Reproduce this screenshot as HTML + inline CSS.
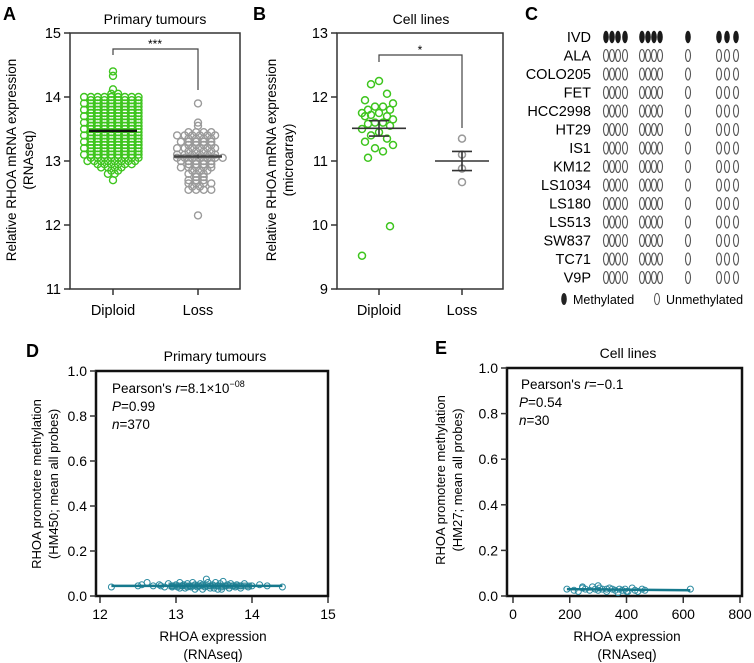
<!DOCTYPE html>
<html><head><meta charset="utf-8">
<style>
html,body{margin:0;padding:0;background:#fff;}
svg{display:block;font-family:"Liberation Sans",Arial,sans-serif;}
</style></head>
<body>
<svg id="fig" width="754" height="663" viewBox="0 0 754 663">
<g>
<text x="3" y="20" font-size="18" font-weight="bold">A</text>
<text x="155" y="24" font-size="14" text-anchor="middle">Primary tumours</text>
<rect x="70" y="33" width="170" height="256" fill="none" stroke="#333" stroke-width="1.5"/>
<text transform="translate(16,160) rotate(-90)" font-size="13.5" text-anchor="middle">Relative RHOA mRNA expression</text>
<text transform="translate(33,160) rotate(-90)" font-size="13.5" text-anchor="middle">(RNAseq)</text>
<g id="aAxis"></g>
<g id="aMarks"></g>
</g>
<g>
<text x="253" y="20" font-size="18" font-weight="bold">B</text>
<text x="421" y="24" font-size="14" text-anchor="middle">Cell lines</text>
<rect x="337" y="33" width="166" height="256" fill="none" stroke="#333" stroke-width="1.5"/>
<text transform="translate(276,160) rotate(-90)" font-size="13.5" text-anchor="middle">Relative RHOA mRNA expression</text>
<text transform="translate(293,160) rotate(-90)" font-size="13.5" text-anchor="middle">(microarray)</text>
<g id="bAxis"></g>
<g id="bMarks"></g>
</g>
<g>
<text x="525" y="20" font-size="18" font-weight="bold">C</text>
<g id="cGrid"></g>
<ellipse cx="564" cy="299" rx="2.8" ry="6" fill="#222"/>
<text x="573" y="304" font-size="12.5">Methylated</text>
<ellipse cx="657" cy="299" rx="2.5" ry="5.6" fill="none" stroke="#555" stroke-width="1"/>
<text x="666" y="304" font-size="12.5">Unmethylated</text>
</g>
<g>
<text x="26" y="357" font-size="18" font-weight="bold">D</text>
<text x="215" y="361" font-size="14" text-anchor="middle">Primary tumours</text>
<rect x="96" y="371" width="232" height="225" fill="none" stroke="#111" stroke-width="2.5"/>
<text x="112" y="393" font-size="13.5">Pearson's <tspan font-style="italic">r</tspan>=8.1×10<tspan font-size="9" dy="-6">−08</tspan></text>
<text x="112" y="411" font-size="13.5"><tspan font-style="italic">P</tspan>=0.99</text>
<text x="112" y="429" font-size="13.5"><tspan font-style="italic">n</tspan>=370</text>
<text transform="translate(41,484) rotate(-90)" font-size="13" text-anchor="middle">RHOA promotere methylation</text>
<text transform="translate(58,484) rotate(-90)" font-size="13" text-anchor="middle">(HM450; mean all probes)</text>
<text x="213" y="641" font-size="13.5" text-anchor="middle">RHOA expression</text>
<text x="213" y="659" font-size="13.5" text-anchor="middle">(RNAseq)</text>
<g id="dAxis"></g>
<g id="dMarks"></g>
</g>
<g>
<text x="435" y="354" font-size="18" font-weight="bold">E</text>
<text x="628" y="358" font-size="14" text-anchor="middle">Cell lines</text>
<rect x="507" y="368" width="235" height="228" fill="none" stroke="#111" stroke-width="2.5"/>
<text x="521" y="389" font-size="13.5">Pearson's <tspan font-style="italic">r</tspan>=−0.1</text>
<text x="519" y="407" font-size="13.5"><tspan font-style="italic">P</tspan>=0.54</text>
<text x="519" y="425" font-size="13.5"><tspan font-style="italic">n</tspan>=30</text>
<text transform="translate(445,480) rotate(-90)" font-size="13" text-anchor="middle">RHOA promotere methylation</text>
<text transform="translate(462,480) rotate(-90)" font-size="13" text-anchor="middle">(HM27; mean all probes)</text>
<text x="627" y="641" font-size="13.5" text-anchor="middle">RHOA expression</text>
<text x="627" y="659" font-size="13.5" text-anchor="middle">(RNAseq)</text>
<g id="eAxis"></g>
<g id="eMarks"></g>
</g>
</svg>
<script>
const aTicks = [11, 12, 13, 14, 15];
const aCategories = ["Diploid", "Loss"];
const aDiploidRows = [[14.4,1],[14.33,1],[14.12,1],[14.05,2],[14.0,9],[13.95,8],[13.9,9],[13.85,8],[13.8,9],[13.75,8],[13.7,9],[13.65,8],[13.6,9],[13.55,8],[13.5,9],[13.45,8],[13.4,9],[13.35,8],[13.3,9],[13.25,8],[13.2,9],[13.15,8],[13.1,9],[13.05,8],[13.0,8],[12.95,6],[12.9,4],[12.85,2],[12.8,2],[12.7,1]];
const aLossRows = [[13.9,1],[13.6,1],[13.55,1],[13.45,4],[13.4,6],[13.35,4],[13.3,5],[13.25,4],[13.2,6],[13.15,4],[13.1,6],[13.05,7],[13.0,5],[12.95,4],[12.9,5],[12.85,3],[12.8,3],[12.75,2],[12.7,3],[12.65,4],[12.6,2],[12.55,4],[12.15,1]];
const aMeans = [13.47, 13.07];
const aSem = [0.02, 0.03];

const bTicks = [9, 10, 11, 12, 13];
const bCategories = ["Diploid", "Loss"];
const bDiploid = [12.25,12.2,12.05,11.95,11.9,11.85,11.85,11.8,11.8,11.75,11.75,11.72,11.7,11.7,11.65,11.6,11.6,11.58,11.55,11.5,11.45,11.4,11.35,11.3,11.25,11.2,11.15,11.05,9.98,9.52];
const bLoss = [11.35, 11.1, 10.88, 10.67];
const bMeans = [11.51, 11.0];
const bSem = [0.12, 0.15];

const cLines = ["IVD","ALA","COLO205","FET","HCC2998","HT29","IS1","KM12","LS1034","LS180","LS513","SW837","TC71","V9P"];
const cMethylated = ["IVD"];

const dTicksX = [12, 13, 14, 15];
const dTicksY = [0.0, 0.2, 0.4, 0.6, 0.8, 1.0];
const dX = [12.15,12.5,12.55,12.62,12.7,12.78,12.85,12.9,12.95,13.0,13.02,13.05,13.08,13.1,13.12,13.15,13.18,13.2,13.22,13.25,13.28,13.3,13.32,13.35,13.38,13.4,13.42,13.45,13.48,13.5,13.52,13.55,13.58,13.6,13.62,13.65,13.68,13.7,13.72,13.75,13.78,13.8,13.85,13.9,13.95,14.0,14.1,14.2,14.4,13.25,13.45,13.6,13.05,12.95,13.35,13.7,13.15,13.55,13.85,12.8];
const dY = [0.04,0.045,0.05,0.06,0.045,0.05,0.04,0.055,0.045,0.05,0.04,0.06,0.045,0.05,0.035,0.055,0.045,0.04,0.06,0.05,0.04,0.045,0.055,0.05,0.04,0.075,0.06,0.045,0.05,0.035,0.06,0.045,0.055,0.04,0.065,0.045,0.05,0.035,0.055,0.045,0.04,0.05,0.045,0.055,0.04,0.045,0.05,0.045,0.04,0.03,0.035,0.03,0.035,0.04,0.03,0.035,0.04,0.03,0.035,0.045];
const dFit = [0.045, 0.045];

const eTicksX = [0, 200, 400, 600, 800];
const eTicksY = [0.0, 0.2, 0.4, 0.6, 0.8, 1.0];
const eX = [190,215,230,245,255,270,280,290,300,305,315,330,340,350,360,370,375,385,395,405,420,430,440,455,465,245,300,330,400,625];
const eY = [0.03,0.025,0.02,0.035,0.03,0.025,0.04,0.03,0.025,0.035,0.03,0.02,0.035,0.03,0.025,0.015,0.03,0.025,0.03,0.02,0.035,0.025,0.02,0.03,0.025,0.04,0.045,0.03,0.02,0.03];
const eFit = [0.03, 0.025];

const NS = "http://www.w3.org/2000/svg";
function mk(parent, tag, attrs, text){
  const el = document.createElementNS(NS, tag);
  for (const k in attrs) el.setAttribute(k, attrs[k]);
  if (text !== undefined) el.textContent = text;
  parent.appendChild(el);
  return el;
}
function lin(d0,d1,r0,r1){ return v => r0 + (v-d0)*(r1-r0)/(d1-d0); }

function yAxis(g, ticks, y, x0, fmt, fs){
  ticks.forEach(t=>{
    const l = mk(g,"line",{x1:x0-6,x2:x0,y1:y(t),y2:y(t),stroke:"#333","stroke-width":1.5});
    
    
    const tx = mk(g,"text",{x:x0-9,y:y(t)+5,"font-size":fs,"text-anchor":"end"}, fmt(t));
    
    
  });
}
function xAxis(g, ticks, x, y0, fmt, fs){
  ticks.forEach(t=>{
    const l = mk(g,"line",{x1:x(t),x2:x(t),y1:y0,y2:y0+6,stroke:"#333","stroke-width":1.5});
    
    
    const tx = mk(g,"text",{x:x(t),y:y0+22,"font-size":fs,"text-anchor":"middle"}, fmt(t));
    
    
  });
}

(function(){
  const y = lin(11,15,289,33);
  const cx = [113,198];
  const ax = document.getElementById("aAxis"), mg = document.getElementById("aMarks");
  yAxis(ax, aTicks, y, 70, t=>String(t), 14.5);
  aCategories.forEach((c,i)=>{
    const l = mk(ax,"line",{x1:cx[i],x2:cx[i],y1:289,y2:295,stroke:"#333","stroke-width":1.5});
    
    
    const t = mk(ax,"text",{x:cx[i],y:315,"font-size":14.5,"text-anchor":"middle"},c);
    
    
  });
  function rows(data, x0, col, sp){
    data.forEach(([v,n],ri)=>{
      const off = (ri%2)*sp/2;
      for(let k=0;k<n;k++){
        const px = x0 + (k-(n-1)/2)*sp + (n>1?off-sp/4:0);
        const c = mk(mg,"circle",{cx:px,cy:y(v),r:3.5,fill:"none",stroke:col,"stroke-width":1.4});
        
        
      }
    });
  }
  rows(aDiploidRows, cx[0], "#3ec51e", 6.8);
  rows(aLossRows, cx[1], "#9a9a9a", 7.6);
  const colsM = ["#111","#444"];
  aMeans.forEach((m,i)=>{
    const l = mk(mg,"line",{x1:cx[i]-24,x2:cx[i]+24,y1:y(m),y2:y(m),stroke:colsM[i],"stroke-width":2.5});
    
    
    const e = mk(mg,"line",{x1:cx[i],x2:cx[i],y1:y(m-aSem[i]),y2:y(m+aSem[i]),stroke:colsM[i],"stroke-width":1.5});
    
    
  });
  const br = mk(ax,"path",{d:`M${cx[0]} 55 V49 H${cx[1]} V90`,fill:"none",stroke:"#444","stroke-width":1.2});
  
  
  const st = mk(ax,"text",{x:155,y:48,"font-size":12,"text-anchor":"middle"},"***");
  
  
})();

(function(){
  const y = lin(9,13,289,33);
  const cx = [379,462];
  const ax = document.getElementById("bAxis"), mg = document.getElementById("bMarks");
  yAxis(ax, bTicks, y, 337, t=>String(t), 14.5);
  bCategories.forEach((c,i)=>{
    const l = mk(ax,"line",{x1:cx[i],x2:cx[i],y1:289,y2:295,stroke:"#333","stroke-width":1.5});
    
    
    const t = mk(ax,"text",{x:cx[i],y:315,"font-size":14.5,"text-anchor":"middle"},c);
    
    
  });
  const offs = [0,-8,8,-14,14,-4,4,-11,11,-17];
  bDiploid.forEach((v,i)=>{
    const c = mk(mg,"circle",{cx:cx[0]+offs[i%offs.length],cy:y(v),r:3.5,fill:"none",stroke:"#3ec51e","stroke-width":1.5});
    
    
  });
  bLoss.forEach((v,i)=>{
    const c = mk(mg,"circle",{cx:cx[1],cy:y(v),r:3.5,fill:"none",stroke:"#999","stroke-width":1.5});
    
    
  });
  bMeans.forEach((m,i)=>{
    const l = mk(mg,"line",{x1:cx[i]-27,x2:cx[i]+27,y1:y(m),y2:y(m),stroke:"#333","stroke-width":1.6});
    
    
    const e = mk(mg,"path",{d:`M${cx[i]-10} ${y(m+bSem[i])} H${cx[i]+10} M${cx[i]} ${y(m+bSem[i])} V${y(m-bSem[i])} M${cx[i]-10} ${y(m-bSem[i])} H${cx[i]+10}`,fill:"none",stroke:"#333","stroke-width":1.6});
    
    
  });
  const br = mk(ax,"path",{d:`M${cx[0]} 62 V55 H${cx[1]} V128`,fill:"none",stroke:"#444","stroke-width":1.2});
  
  
  const st = mk(ax,"text",{x:420,y:54,"font-size":12,"text-anchor":"middle"},"*");
  
  
})();

(function(){
  const g = document.getElementById("cGrid");
  const colX = [606,612,618,625, 642,648,654,660, 688, 719,727,736];
  cLines.forEach((name,i)=>{
    const yy = 37 + i*18.5;
    const t = mk(g,"text",{x:591,y:yy+5,"font-size":14.5,"text-anchor":"end"},name);
    
    
    const meth = cMethylated.includes(name);
    colX.forEach(x=>{
      const e = mk(g,"ellipse",meth?{cx:x,cy:yy,rx:2.8,ry:6.2,fill:"#1a1a1a"}:{cx:x,cy:yy,rx:2.5,ry:6,fill:"none",stroke:"#555","stroke-width":1.1});
      
      
    });
  });
})();

(function(){
  const x = lin(12,15,100,328), y = lin(0,1,596,371);
  const ax = document.getElementById("dAxis"), mg = document.getElementById("dMarks");
  yAxis(ax, dTicksY, y, 96, t=>t.toFixed(1), 14);
  xAxis(ax, dTicksX, x, 597, t=>String(t), 14);
  dX.forEach((v,i)=>{
    const c = mk(mg,"circle",{cx:x(v),cy:y(dY[i]),r:3,fill:"none",stroke:"#2a8aa0","stroke-width":1});
    
    
  });
  const band = mk(mg,"rect",{x:x(12.9),y:y(0.06),width:x(14.0)-x(12.9),height:y(0.03)-y(0.06),fill:"#1f7f92",opacity:0.75});
  
  
  const f = mk(mg,"line",{x1:x(12.15),x2:x(14.4),y1:y(dFit[0]),y2:y(dFit[1]),stroke:"#16798d","stroke-width":2.5});
  
  
})();

(function(){
  const x = lin(0,800,513,740), y = lin(0,1,596,368);
  const ax = document.getElementById("eAxis"), mg = document.getElementById("eMarks");
  yAxis(ax, eTicksY, y, 507, t=>t.toFixed(1), 14);
  xAxis(ax, eTicksX, x, 597, t=>String(t), 14);
  eX.forEach((v,i)=>{
    const c = mk(mg,"circle",{cx:x(v),cy:y(eY[i]),r:3,fill:"none",stroke:"#2a8aa0","stroke-width":1});
    
    
  });
  const f = mk(mg,"line",{x1:x(190),x2:x(625),y1:y(eFit[0]),y2:y(eFit[1]),stroke:"#16798d","stroke-width":2.5});
  
  
})();
</script>
</body></html>
